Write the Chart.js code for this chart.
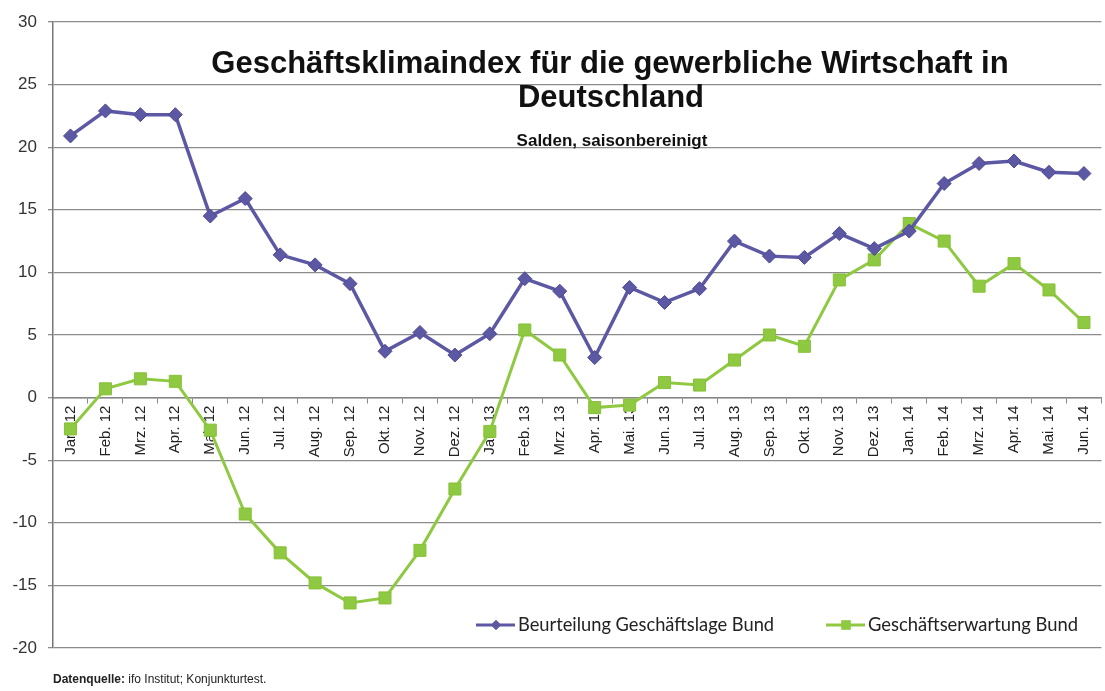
<!DOCTYPE html>
<html>
    <head>
        <meta charset="UTF-8">
        <title>Geschäftsklimaindex</title>
        <script src="https://cdn.jsdelivr.net/npm/chart.js@4/dist/chart.umd.min.js"></script>
        <style>
            body{margin:0;background:#fff;}
            #chartContainer{width:1105px;height:691px;}
        </style>
    </head>
    <body>
        <div id="chartContainer">
            <canvas id="chart" width="1105" height="691"></canvas>
        </div>
        <script>
            const months=["Jan. 12","Feb. 12","Mrz. 12","Apr. 12","Mai. 12","Jun. 12","Jul. 12","Aug. 12","Sep. 12","Okt. 12","Nov. 12","Dez. 12",
                "Jan. 13","Feb. 13","Mrz. 13","Apr. 13","Mai. 13","Jun. 13","Jul. 13","Aug. 13","Sep. 13","Okt. 13","Nov. 13","Dez. 13",
                "Jan. 14","Feb. 14","Mrz. 14","Apr. 14","Mai. 14","Jun. 14"];
            const geschaeftslage=[20.9,22.9,22.6,22.6,14.5,15.9,11.4,10.6,9.1,3.7,5.2,3.4,
                5.1,9.5,8.5,3.2,8.8,7.6,8.7,12.5,11.3,11.2,13.1,11.9,
                13.3,17.1,18.7,18.9,18.0,17.9];
            const geschaeftserwartung=[-2.5,0.7,1.5,1.3,-2.6,-9.3,-12.4,-14.8,-16.4,-16.0,-12.2,-7.3,
                -2.7,5.4,3.4,-0.8,-0.6,1.2,1.0,3.0,5.0,4.1,9.4,11.0,
                13.9,12.5,8.9,10.7,8.6,6.0];
            const seriesNames=["Beurteilung Geschäftslage Bund","Geschäftserwartung Bund"];
            const titleLines=["Geschäftsklimaindex für die gewerbliche Wirtschaft in","Deutschland"];
            const subtitle="Salden, saisonbereinigt";

            const BLUE="#5c58a3";
            const GREEN="#8fc941";

            // title, legend and source note are drawn on top of the plot
            const overlay={
                id:"overlay",
                afterDraw(chart){
                    const ctx=chart.ctx;
                    ctx.save();
                    ctx.fillStyle="#111";
                    ctx.textAlign="center";
                    ctx.textBaseline="alphabetic";
                    ctx.font="bold 31px 'Liberation Sans', Arial";
                    ctx.fillText(titleLines[0],610,73);
                    ctx.fillText(titleLines[1],611,107);
                    ctx.font="bold 17px 'Liberation Sans', Arial";
                    ctx.fillText(subtitle,612,146);

                    // legend
                    const items=[
                        {x:476,color:BLUE,style:"rectRot",r:5,name:seriesNames[0],w:257},
                        {x:826,color:GREEN,style:"rect",r:6.5,name:seriesNames[1],w:210}
                    ];
                    ctx.textAlign="left";
                    for(const it of items){
                        ctx.strokeStyle=it.color;
                        ctx.lineWidth=3;
                        ctx.beginPath();
                        ctx.moveTo(it.x,625);
                        ctx.lineTo(it.x+39,625);
                        ctx.stroke();
                        ctx.fillStyle=it.color;
                        Chart.helpers.drawPoint(ctx,{pointStyle:it.style,radius:it.r,borderWidth:0},it.x+20,625);
                        ctx.fill();
                        ctx.fillStyle="#222";
                        ctx.font="18px Lato, 'Liberation Sans'";
                        const m=ctx.measureText(it.name).width;
                        const size=Math.min(19,18*it.w/m);
                        ctx.font=size.toFixed(1)+"px Lato, 'Liberation Sans'";
                        ctx.fillText(it.name,it.x+42,631);
                    }

                    // source
                    ctx.fillStyle="#222";
                    ctx.font="bold 12px 'Liberation Sans', Arial";
                    ctx.fillText("Datenquelle:",53,683);
                    const w=ctx.measureText("Datenquelle:").width;
                    ctx.font="12px 'Liberation Sans', Arial";
                    ctx.fillText(" ifo Institut; Konjunkturtest.",53+w,683);
                    ctx.restore();
                }
            };

            const chart=new Chart(document.getElementById("chart"),{
                type:"line",
                data:{
                    labels:months,
                    datasets:[
                        {
                            label:seriesNames[0],
                            data:geschaeftslage,
                            borderColor:BLUE,
                            backgroundColor:BLUE,
                            borderWidth:3.5,
                            pointStyle:"rectRot",
                            pointRadius:7,
                            pointBorderWidth:1,
                            pointBorderColor:"#4e4a90",
                            tension:0
                        },
                        {
                            label:seriesNames[1],
                            data:geschaeftserwartung,
                            borderColor:GREEN,
                            backgroundColor:GREEN,
                            borderWidth:3,
                            pointStyle:"rect",
                            pointRadius:8.5,
                            pointBorderWidth:1,
                            pointBorderColor:"#86c038",
                            tension:0
                        }
                    ]
                },
                options:{
                    responsive:false,
                    devicePixelRatio:1,
                    animation:false,
                    layout:{autoPadding:false,padding:{top:22,bottom:43,right:3,left:0}},
                    plugins:{
                        legend:{display:false},
                        tooltip:{enabled:false}
                    },
                    scales:{
                        x:{
                            type:"category",
                            position:{y:0},
                            offset:true,
                            grid:{
                                display:true,
                                drawOnChartArea:false,
                                drawTicks:true,
                                tickLength:5,
                                color:"#888",
                                offset:true
                            },
                            border:{display:true,color:"#888",width:1.5},
                            ticks:{
                                minRotation:90,
                                maxRotation:90,
                                autoSkip:false,
                                padding:3,
                                color:"#222",
                                font:{size:15,family:"'Liberation Sans', Arial"}
                            }
                        },
                        y:{
                            min:-20,
                            max:30,
                            ticks:{
                                stepSize:5,
                                padding:11,
                                color:"#333",
                                font:{size:17,family:"'Liberation Sans', Arial"}
                            },
                            grid:{color:"#8c8c8c",lineWidth:1.3,tickLength:5},
                            border:{display:true,color:"#777",width:1.5},
                            afterFit(scale){scale.width=53;}
                        }
                    }
                },
                plugins:[overlay]
            });
        </script>
    </body>
</html>
